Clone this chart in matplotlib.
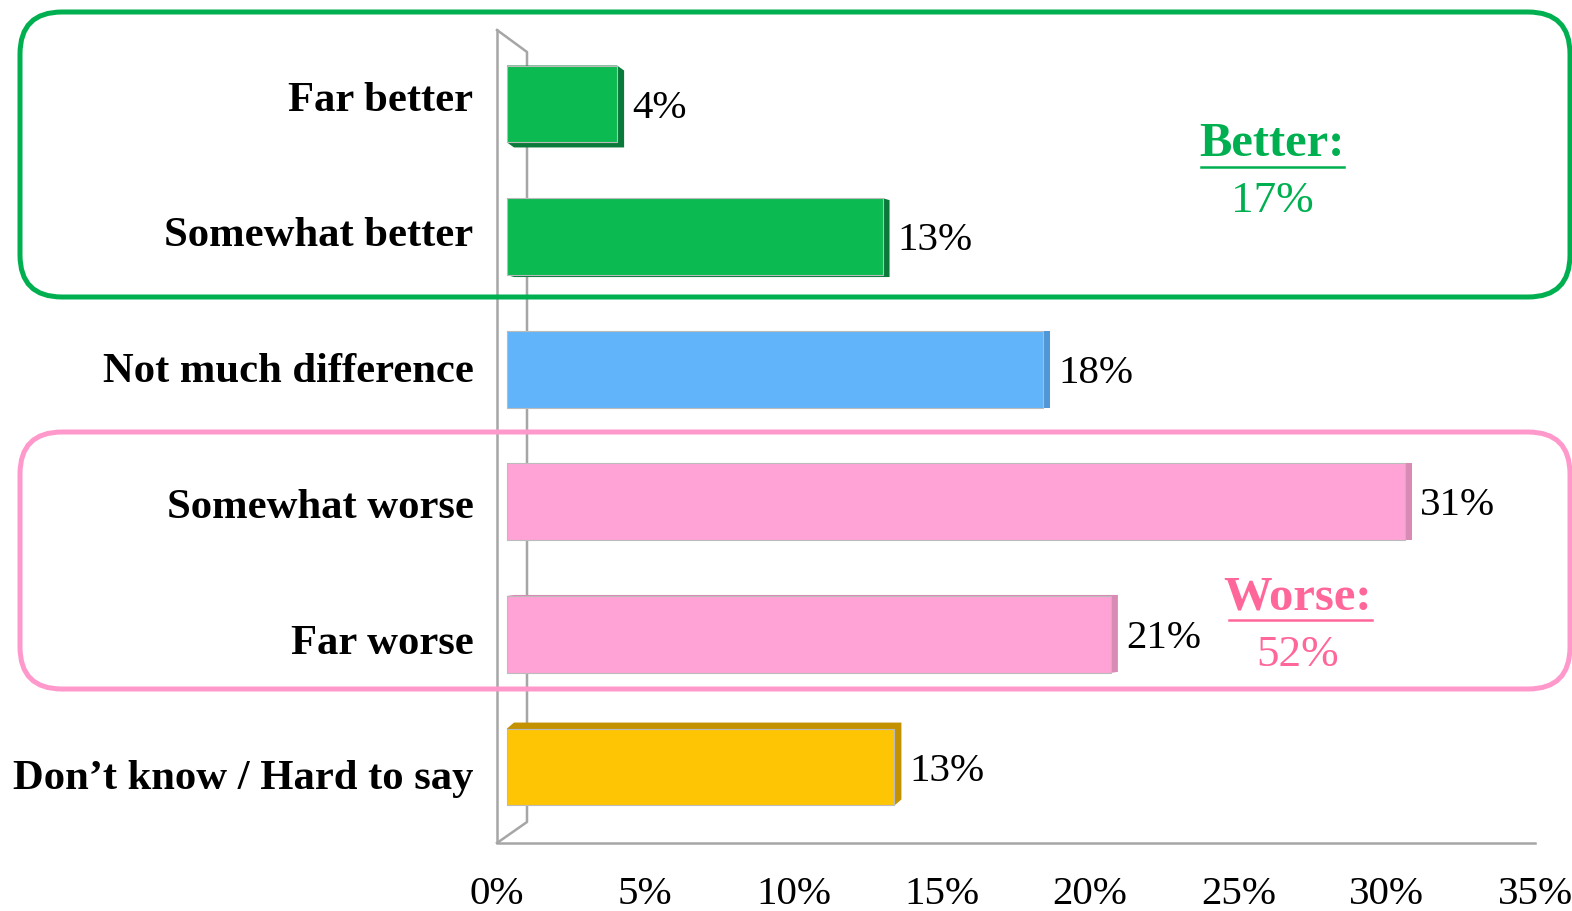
import numpy as np
import matplotlib
matplotlib.use('Agg')
import matplotlib.pyplot as plt
from matplotlib.patches import Rectangle, FancyBboxPatch, Polygon
from matplotlib.lines import Line2D

plt.rcParams['font.family'] = ['Liberation Serif', 'DejaVu Serif']

# donnees
categories = ['Far better', 'Somewhat better', 'Not much difference',
              'Somewhat worse', 'Far worse', 'Don\u2019t know / Hard to say']
values = [4.05, 13.0, 18.4, 30.6, 20.7, 13.4]
labels = ['4%', '13%', '18%', '31%', '21%', '13%']
xticks = [0, 5, 10, 15, 20, 25, 30, 35]
groups = [('Better:', '17%'), ('Worse:', '52%')]

face = ['#0cba52', '#0cba52', '#62b4fa', '#ffa3d6', '#ffa3d6', '#fec505']
side = ['#0a7a3b', '#0a7a3b', '#4f97d6', '#d98ab5', '#d98ab5', '#c49200']
depth_dy = [-5, -2, 0, 0, 1, 6]   # px, effet 3D (negatif = vers le bas)

fig = plt.figure(figsize=(15.72, 9.11), dpi=100)
ax = fig.add_axes([497/1572, (911-843)/911, (1535-497)/1572, (843-30)/911])
ax.set_xlim(0, 35)
ax.set_ylim(5.573, -0.558)

# conversion px -> unites de donnees
sx = 35 / (1535-497)
sy = (5.573+0.558) / (843-30)

y = np.arange(len(categories))
gap = 10*sx
h = 0.58
for i in range(len(values)):
    x0, x1 = gap, values[i]
    yt, yb = y[i]-h/2, y[i]+h/2
    dx, dy = 7*sx, -depth_dy[i]*sy
    if dy >= 0:
        hull = [(x0, yt), (x1, yt), (x1+dx, yt+dy), (x1+dx, yb+dy), (x0+dx, yb+dy), (x0, yb)]
    else:
        hull = [(x0, yb), (x0, yt), (x0+dx, yt+dy), (x1+dx, yt+dy), (x1+dx, yb+dy), (x1, yb)]
    ax.add_patch(Polygon(hull, closed=True, facecolor=side[i], edgecolor='none', zorder=2))
    ax.add_patch(Rectangle((x0, yt), x1-x0, h, facecolor=face[i],
                           edgecolor='#bbbbbb', lw=0.8, zorder=3))
    ax.annotate(labels[i], (values[i], y[i]), xytext=(11, -3), textcoords='offset points',
                va='center', ha='left', fontsize=29.5, zorder=4)

ax.set_yticks(2.5 + (y-2.5)*1.024)
ax.set_yticklabels(categories, fontsize=30.7, fontweight='bold')
ax.set_xticks(xticks)
ax.set_xticklabels([f'{t}%' for t in xticks], fontsize=29.5)
ax.tick_params(axis='both', length=0)
ax.tick_params(axis='y', pad=17)
ax.tick_params(axis='x', pad=24)
for s in ax.spines.values():
    s.set_visible(False)

# murs 3D
gc = '#a6a6a6'
lw = 1.8
ax.add_line(Line2D([497, 497, 1535], [911-30, 911-843, 911-843], color=gc, lw=lw,
                   transform=None, clip_on=False, zorder=1))
ax.add_line(Line2D([497, 527, 527, 497], [911-30, 911-52, 911-822, 911-843], color=gc, lw=lw,
                   transform=None, clip_on=False, zorder=1))

# cadres arrondis
fig.add_artist(FancyBboxPatch((0.20, 6.14), 15.50, 2.85, boxstyle='round,pad=0,rounding_size=0.42',
                              transform=fig.dpi_scale_trans, fill=False, ec='#00b050', lw=3.6))
fig.add_artist(FancyBboxPatch((0.20, 2.22), 15.50, 2.57, boxstyle='round,pad=0,rounding_size=0.42',
                              transform=fig.dpi_scale_trans, fill=False, ec='#ff99cc', lw=3.6))

# totaux
gcol = ['#00b050', '#ff6699']
gpos = [(12.72, 9.11-1.44, 9.11-2.01), (12.98, 9.11-5.97, 9.11-6.55)]
ulx = [(12.01, 13.44), (12.29, 13.72)]
for (t1, t2), c, (gx, y1, y2), (u0, u1) in zip(groups, gcol, gpos, ulx):
    fig.text(gx/15.72, y1/9.11, t1, ha='center', va='center', fontsize=35,
             fontweight='bold', color=c)
    fig.text(gx/15.72, y2/9.11, t2, ha='center', va='center', fontsize=32.5, color=c)
    uy = (y1 + y2)/2 + 0.06
    fig.add_artist(Line2D([u0/15.72, u1/15.72], [uy/9.11, uy/9.11], color=c, lw=1.8,
                          transform=fig.transFigure))

fig.savefig('out.png', dpi=100)
